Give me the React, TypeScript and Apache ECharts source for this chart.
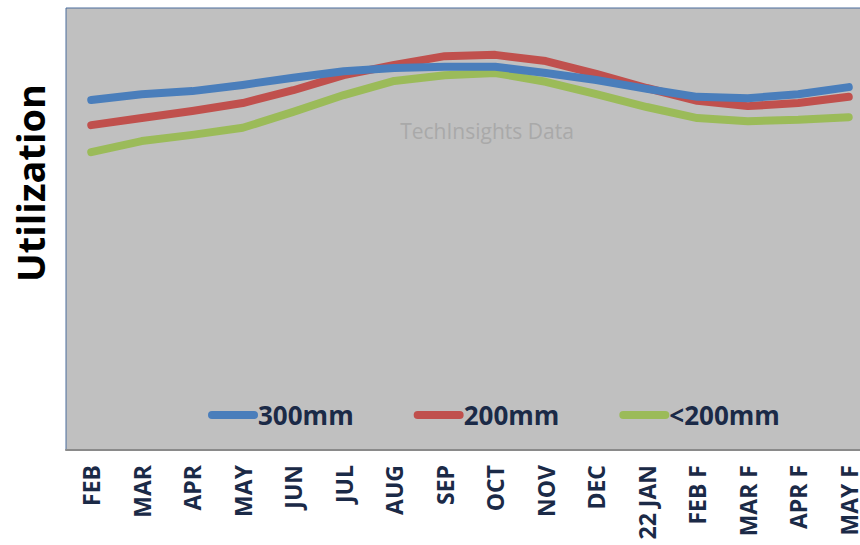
import React, { useEffect, useRef } from "react";
import * as echarts from "echarts";

const categories = ["FEB", "MAR", "APR", "MAY", "JUN", "JUL", "AUG", "SEP", "OCT", "NOV", "DEC", "22 JAN", "FEB F", "MAR F", "APR F", "MAY F"];
const s300 = [79.2, 80.5, 81.2, 82.6, 84.2, 85.7, 86.4, 86.7, 86.7, 85.3, 83.7, 81.7, 79.9, 79.6, 80.5, 82.1];
const s200 = [73.5, 75.1, 76.7, 78.5, 81.4, 84.8, 87.1, 89.1, 89.4, 88.0, 85.1, 81.9, 79.0, 77.8, 78.5, 79.9];
const sLess200 = [67.4, 69.9, 71.3, 72.9, 76.5, 80.3, 83.5, 84.8, 85.3, 83.3, 80.5, 77.6, 75.1, 74.4, 74.7, 75.3];
const seriesNames = ["300mm", "200mm", "<200mm"];
const colors = ["#4a7ebb", "#c0504d", "#9bbb59"];

const FONT = "'Open Sans', 'Noto Sans', sans-serif";
const NAVY = "#1b2a47";
const PILL = "path://M4,0 H46 A4,4 0 0 1 46,8 H4 A4,4 0 0 1 4,0 Z";

export default function App() {
  const ref = useRef<HTMLDivElement>(null);
  useEffect(() => {
    if (!ref.current) return;
    const chart = echarts.init(ref.current, undefined, { renderer: "svg" });
    const data = [s300, s200, sLess200];
    chart.setOption({
      animation: false,
      grid: {
        left: 66,
        top: 8,
        right: 6,
        height: 442,
        show: true,
        backgroundColor: "#c0c0c0",
        borderColor: "#4a6d9c",
        borderWidth: 1,
      },
      xAxis: {
        type: "category",
        data: categories,
        boundaryGap: true,
        axisLine: { show: true, lineStyle: { color: "#8a8a8a", width: 2 } },
        axisTick: { show: false },
        axisLabel: {
          rotate: 90,
          margin: 15,
          interval: 0,
          color: NAVY,
          fontFamily: FONT,
          fontWeight: "bold",
          fontSize: 23,
        },
      },
      yAxis: {
        type: "value",
        min: 0,
        max: 100,
        axisLine: { show: false },
        axisTick: { show: false },
        axisLabel: { show: false },
        splitLine: { show: false },
      },
      legend: {
        left: 203,
        top: 397,
        itemGap: 60,
        itemWidth: 50,
        itemHeight: 9,
        textStyle: { color: NAVY, fontFamily: FONT, fontWeight: "bold", fontSize: 26, padding: [0, 0, 0, -5] },
        data: seriesNames.map((n) => ({ name: n, icon: PILL })),
      },
      graphic: [
        {
          type: "text",
          x: 30,
          y: 183,
          rotation: Math.PI / 2,
          style: {
            text: "Utilization",
            fill: "#000",
            font: `bold 38px ${FONT}`,
            textAlign: "center",
            textVerticalAlign: "middle",
          },
        },
        {
          type: "text",
          x: 487,
          y: 131,
          z: 1,
          style: {
            text: "TechInsights Data",
            fill: "#a9a9a9",
            font: `21px ${FONT}`,
            textAlign: "center",
            textVerticalAlign: "middle",
          },
        },
      ],
      series: seriesNames.map((n, i) => ({
        name: n,
        type: "line",
        data: data[i],
        symbol: "none",
        color: colors[i],
        lineStyle: { width: 8, color: colors[i], cap: "round", join: "round" },
        itemStyle: { color: colors[i] },
        z: 3 + (2 - i),
      })),
    });
    return () => chart.dispose();
  }, []);
  return (
    <div style={{ position: "fixed", left: 0, top: 0, width: 860, height: 545, overflow: "hidden", background: "#fff" }}>
      <div ref={ref} style={{ width: 880, height: 545 }} />
    </div>
  );
}
